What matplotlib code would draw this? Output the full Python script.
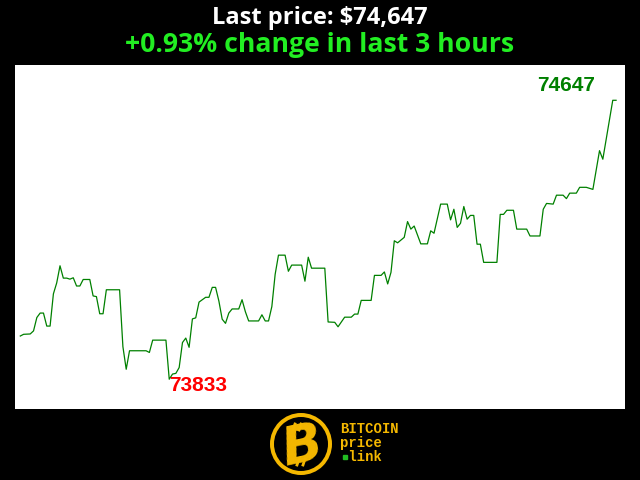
import matplotlib.pyplot as plt
from matplotlib.patches import Circle

# minutes since start of the 3 hour window (vertices of the price line)
minutes = [0, 1, 3, 4, 5, 6, 7, 8, 9, 10, 11, 12, 13, 14, 15, 16, 17, 18, 19, 21,
           22, 23, 24, 25, 26, 30, 31, 32, 33, 38, 39, 40, 44, 45, 46, 47, 48, 49, 50, 51,
           52, 53, 54, 56, 57, 58, 59, 60, 61, 62, 63, 64, 66, 67, 68, 69, 72, 73, 74, 75,
           76, 77, 78, 80, 81, 82, 85, 86, 87, 88, 92, 93, 95, 96, 98, 100, 101, 102, 103, 106,
           107, 109, 110, 111, 112, 113, 114, 116, 117, 118, 119, 121, 123, 124, 125, 127, 129, 130, 131, 132,
           133, 134, 135, 136, 137, 138, 139, 140, 144, 145, 146, 147, 149, 150, 153, 154, 157, 158, 159, 161,
           162, 164, 165, 166, 168, 169, 171, 173, 175, 176, 179, 180]
prices = [73959, 73964, 73965, 73974, 74013, 74026, 74026, 73988, 73988, 74082, 74114, 74164, 74128, 74128, 74125, 74129, 74105, 74105, 74124, 74124,
          74076, 74074, 74024, 74024, 74094, 74094, 73928, 73862, 73916, 73916, 73911, 73947, 73947, 73833, 73848, 73850, 73867, 73940, 73953, 73926,
          74009, 74012, 74058, 74072, 74072, 74101, 74101, 74061, 74008, 73996, 74026, 74038, 74038, 74065, 74030, 74003, 74003, 74021, 74003, 74003,
          74045, 74139, 74195, 74195, 74148, 74166, 74166, 74119, 74189, 74157, 74157, 74000, 73999, 73986, 74014, 74014, 74023, 74023, 74063, 74063,
          74136, 74136, 74146, 74111, 74145, 74237, 74231, 74247, 74293, 74271, 74280, 74228, 74228, 74266, 74259, 74344, 74344, 74298, 74329, 74276,
          74288, 74337, 74300, 74311, 74311, 74227, 74227, 74174, 74174, 74314, 74314, 74326, 74326, 74271, 74271, 74251, 74251, 74329, 74346, 74344,
          74370, 74370, 74360, 74376, 74376, 74393, 74393, 74387, 74500, 74475, 74647, 74647]

last_price = prices[-1]
change_pct = 0.93
hours = 3

fig = plt.figure(figsize=(6.4, 4.8), dpi=100, facecolor='black')

# titles
fig.text(0.5, 0.963, 'Last price: ${:,}'.format(last_price), color='white',
         fontsize=17, fontweight='bold', family='Open Sans', ha='center', va='center')
fig.text(0.5, 0.907, '+{:.2f}% change in last {} hours'.format(change_pct, hours), color='#22ee22',
         fontsize=19.2, fontweight='bold', family='Open Sans', ha='center', va='center')

# price chart
ax = fig.add_axes([15/640, 71/480, 610/640, 344/480])
ax.set_facecolor('white')
ax.plot(minutes, prices, color='#008000', lw=0.9)
ax.set_xlim(-1.6, 182.7)
ax.set_ylim(73746, 74750)
ax.set_xticks([])
ax.set_yticks([])
for s in ax.spines.values():
    s.set_visible(False)

i_min = prices.index(min(prices))
i_max = prices.index(max(prices))
ax.annotate(str(prices[i_min]), (minutes[i_min], prices[i_min]), xytext=(0, 2),
            textcoords='offset points', color='red', fontsize=15, fontweight='bold',
            family='Liberation Sans', ha='left', va='top')
ax.annotate(str(prices[i_max]), (minutes[i_max], prices[i_max]), xytext=(-13, 4),
            textcoords='offset points', color='#008000', fontsize=15, fontweight='bold',
            family='Liberation Sans', ha='right', va='bottom')

# logo
lax = fig.add_axes([0, 0, 1, 71/480])
lax.set_xlim(0, 640)
lax.set_ylim(480, 409)
lax.axis('off')
gold = '#f5b800'
lax.add_patch(Circle((301, 444), 31, facecolor=gold, edgecolor='none'))
lax.add_patch(Circle((301, 444), 27, facecolor='black', edgecolor='none'))
lax.text(303, 446, 'B', color=gold, fontsize=38, fontweight='heavy', family='DejaVu Sans',
         ha='center', va='center', rotation=12, style='italic')
for xx in (293, 299):
    lax.plot([xx + 2, xx], [424, 430], color=gold, lw=2)
    lax.plot([xx + 6, xx + 4], [459, 465], color=gold, lw=2)
for k, word in enumerate(['BITCOIN', 'price', ' link']):
    lax.text(340, 429 + 14 * k, word, color=gold, fontsize=10, fontweight='bold',
             family='Liberation Mono', ha='left', va='center')
lax.plot([345], [457], marker='s', ms=3, color='#22bb22')

fig.savefig('out.png', dpi=100, facecolor='black')
